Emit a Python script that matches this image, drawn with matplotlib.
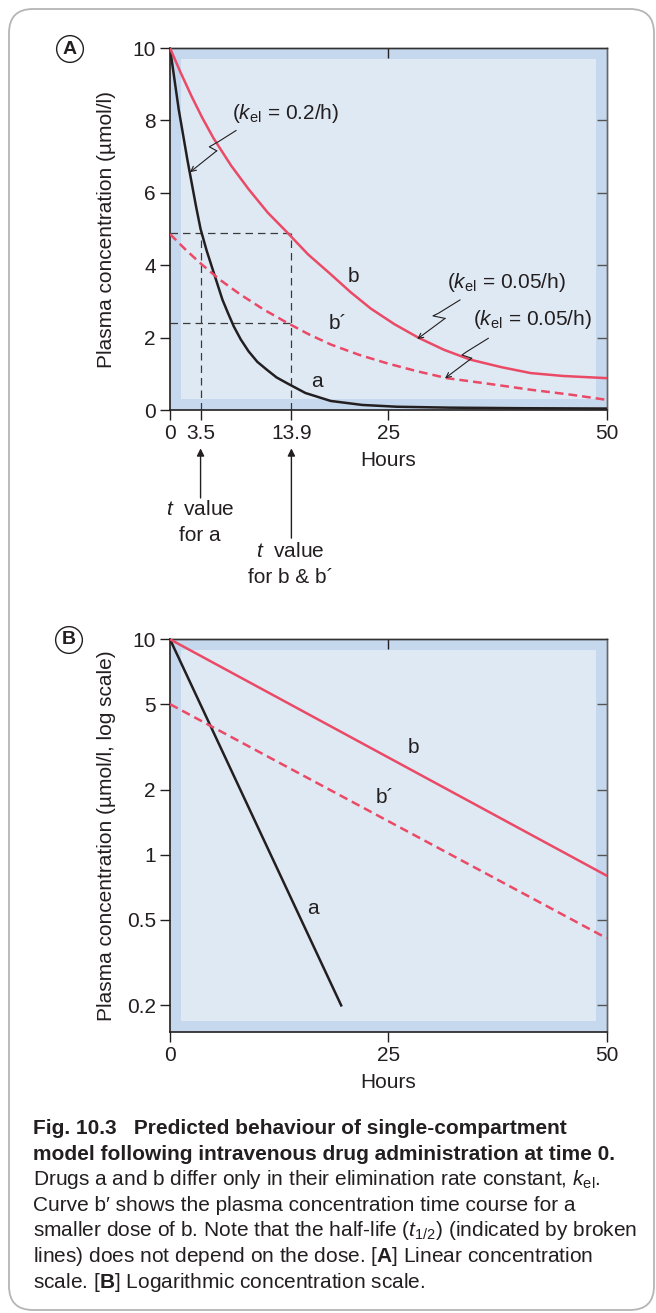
import matplotlib
matplotlib.use("Agg")
import matplotlib.pyplot as plt
from matplotlib.patches import Rectangle, FancyBboxPatch
from matplotlib.transforms import IdentityTransform
from matplotlib.ticker import FixedLocator, NullLocator

plt.rcParams['font.family'] = ['Liberation Sans', 'DejaVu Sans']
plt.rcParams['mathtext.fontset'] = 'custom'
plt.rcParams['mathtext.rm'] = 'Liberation Sans'
plt.rcParams['mathtext.it'] = 'Liberation Sans:italic'
plt.rcParams['mathtext.bf'] = 'Liberation Sans:bold'

# --- panel A: linear scale (hours, umol/l)
t_a = [0, 1, 2, 3, 3.5, 4.2, 5, 6, 6.6, 7.3, 8.1, 9, 10, 11.1, 12.2, 13.4, 15.5, 18.4,
       22, 26, 32, 40, 50]
c_a = [10, 8.3, 6.9, 5.6, 5.0, 4.4, 3.8, 3.05, 2.7, 2.31, 1.95, 1.62, 1.33, 1.11, 0.9,
       0.74, 0.47, 0.25, 0.14, 0.09, 0.065, 0.05, 0.04]
t_b = [0, 1.2, 2.5, 3.7, 5, 7, 9, 11.2, 13.4, 15.8, 18.4, 20.7, 23, 25.7, 28.5, 31.4,
       34.4, 38, 41.3, 45, 50]
c_b = [10, 9.33, 8.65, 8.07, 7.5, 6.75, 6.1, 5.45, 4.91, 4.3, 3.75, 3.25, 2.8, 2.37,
       1.99, 1.66, 1.39, 1.18, 1.02, 0.94, 0.88]
t_b2 = [0, 1.7, 3.4, 5.7, 8, 10.7, 13.4, 15.9, 18.4, 21.7, 25, 28.3, 31.7, 36, 41.3,
        46, 50]
c_b2 = [4.86, 4.45, 4.07, 3.6, 3.2, 2.78, 2.41, 2.09, 1.81, 1.52, 1.28, 1.07, 0.88,
        0.74, 0.56, 0.42, 0.28]

# half-life guides
t_half = [3.5, 13.9]
half_levels = [4.9, 2.4]

xticks_a = [0, 3.5, 13.9, 25, 50]
xticklabels_a = ['0', '3.5', '13.9', '25', '50']
yticks_a = [0, 2, 4, 6, 8, 10]

# --- panel B: log scale
t_log_a = [0, 19.6]
c_log_a = [10, 0.2]
t_log_b = [0, 50]
c_log_b = [10, 0.80]
t_log_b2 = [0, 50]
c_log_b2 = [5, 0.41]

yticks_b = [0.2, 0.5, 1, 2, 5, 10]
yticklabels_b = ['0.2', '0.5', '1', '2', '5', '10']
xticks_b = [0, 25, 50]

caption_lines = [
    'Fig. 10.3   Predicted behaviour of single-compartment',
    'model following intravenous drug administration at time 0.',
    r'Drugs a and b differ only in their elimination rate constant, $k_{\mathrm{el}}$.',
    'Curve b\u2032 shows the plasma concentration time course for a',
    r'smaller dose of b. Note that the half-life ($t_{1/2}$) (indicated by broken',
    r'lines) does not depend on the dose. [$\mathbf{A}$] Linear concentration',
    r'scale. [$\mathbf{B}$] Logarithmic concentration scale.',
]
caption_bold = [True, True, False, False, False, False, False]

RED = '#ea4a66'
INK = '#231f20'
OUTER = '#c5d8ed'
INNER = '#dfe9f4'
FS = 15

W, H = 656, 1313
fig = plt.figure(figsize=(W / 100, H / 100), dpi=100)


def box(l, t, r, b):
    return [l / W, 1 - b / H, (r - l) / W, (b - t) / H]


def panel_bg(ax, inset=11):
    ax.set_facecolor(OUTER)
    bb = ax.get_position()
    dx, dy = inset / (bb.width * W), inset / (bb.height * H)
    ax.add_patch(Rectangle((dx, dy), 1 - 2 * dx, 1 - 2 * dy, transform=ax.transAxes,
                           color=INNER, lw=0, zorder=0))


def style(ax, right_ticks, log=False):
    for s in ['left', 'bottom']:
        ax.spines[s].set(color=INK, lw=1.2)
    ax.spines['top'].set(color='#333333', lw=1.0)
    ax.spines['right'].set(color='#666666', lw=1.0)
    ax.tick_params(axis='both', direction='out', length=7.2, width=1.0, color=INK,
                   labelsize=FS, labelcolor=INK, pad=3)
    ax.tick_params(top=False, right=False)
    sx = ax.secondary_xaxis('top')
    sx.set_xticks([25])
    sx.tick_params(direction='in', length=7.2, width=1.0, color=INK, labeltop=False)
    sx.spines['top'].set(color='#333333', lw=1.0)
    sy = ax.secondary_yaxis('right')
    sy.set_yticks(right_ticks)
    sy.tick_params(direction='in', length=7.2, width=1.0, color='#555555', labelright=False)
    sy.spines['right'].set(color='#666666', lw=1.0)
    if log:
        sy.yaxis.set_minor_locator(NullLocator())


def squiggle(ax, pts):
    xs = [p[0] for p in pts[:-1]]
    ys = [p[1] for p in pts[:-1]]
    ax.plot(xs, ys, color=INK, lw=0.8, zorder=4)
    ax.annotate('', xy=pts[-1], xytext=pts[-2],
                arrowprops=dict(arrowstyle='->', lw=0.8, color=INK,
                                shrinkA=0, shrinkB=0, mutation_scale=9))


# ---------------- panel A
axA = fig.add_axes(box(170, 48, 606.7, 410))
panel_bg(axA)
axA.set_xlim(0, 50)
axA.set_ylim(0, 10)

gk = dict(color='#3a3a3a', lw=0.9, ls=(0, (6, 4)), zorder=2)
for lvl in half_levels:
    axA.plot([0, t_half[1]], [lvl, lvl], **gk)
for th in t_half:
    axA.plot([th, th], [0, half_levels[0]], **gk)

axA.plot(t_a, c_a, color=INK, lw=1.8, zorder=3)
axA.plot(t_b, c_b, color=RED, lw=1.8, zorder=3)
axA.plot(t_b2, c_b2, color=RED, lw=1.8, ls=(0, (3.5, 2)), zorder=3)

axA.set_xticks(xticks_a)
axA.set_xticklabels(xticklabels_a)
axA.set_yticks(yticks_a)
style(axA, [2, 4, 6, 8])

axA.set_ylabel('Plasma concentration (\u00b5mol/l)', fontsize=FS, color=INK, va='center')
axA.yaxis.set_label_coords(-63 / 436.7, 0.5)
axA.set_xlabel('Hours', fontsize=FS, color=INK, va='center')
axA.xaxis.set_label_coords(0.5, -50 / 362)

axA.text(13.28, 8.2, r'($k_{\mathrm{el}}$ = 0.2/h)', fontsize=FS, color=INK,
         ha='center', va='center', zorder=5)
squiggle(axA, [(7.56, 7.72), (5.53, 7.41), (4.5, 7.27), (5.35, 7.16), (2.29, 6.57)])
axA.text(38.55, 3.51, r'($k_{\mathrm{el}}$ = 0.05/h)', fontsize=FS, color=INK,
         ha='center', va='center', zorder=5)
squiggle(axA, [(33.2, 3.04), (30.72, 2.67), (30.11, 2.6), (31.49, 2.53), (28.31, 1.96)])
axA.text(41.45, 2.49, r'($k_{\mathrm{el}}$ = 0.05/h)', fontsize=FS, color=INK,
         ha='center', va='center', zorder=5)
squiggle(axA, [(36.44, 1.98), (33.97, 1.61), (33.43, 1.52), (34.54, 1.43), (31.49, 0.876)])

axA.text(20.99, 3.68, 'b', fontsize=FS, color=INK, ha='center', va='center')
axA.text(19.23, 2.40, 'b\u00b4', fontsize=FS, color=INK, ha='center', va='center')
axA.text(16.8, 0.78, 'a', fontsize=FS, color=INK, ha='center', va='center')

# t value arrows below the axis
for th, tail, ty, line2 in [(3.5, -2.43, -2.76, 'for a'), (13.9, -3.54, -3.91, 'for b & b\u00b4')]:
    axA.annotate('', xy=(th, -1.06), xytext=(th, tail), annotation_clip=False,
                 arrowprops=dict(arrowstyle='-|>', lw=1.0, color=INK,
                                 shrinkA=0, shrinkB=0, mutation_scale=11))
    axA.text(th - 0.1, ty, r'$t$  value', fontsize=FS, color=INK, ha='center',
             va='center', clip_on=False)
    axA.text(th - 0.1, ty - 0.72, line2, fontsize=FS, color=INK, ha='center',
             va='center', clip_on=False)

# ---------------- panel B
axB = fig.add_axes(box(170, 639.3, 606.7, 1032.3))
panel_bg(axB)
axB.set_yscale('log')
axB.set_xlim(0, 50)
axB.set_ylim(0.15, 10)

axB.plot(t_log_a, c_log_a, color=INK, lw=1.8, zorder=3)
axB.plot(t_log_b, c_log_b, color=RED, lw=1.8, zorder=3)
axB.plot(t_log_b2, c_log_b2, color=RED, lw=1.8, ls=(0, (3.5, 2)), zorder=3)

axB.set_xticks(xticks_b)
axB.yaxis.set_major_locator(FixedLocator(yticks_b))
axB.yaxis.set_minor_locator(NullLocator())
axB.set_yticklabels(yticklabels_b)
style(axB, [0.2, 0.5, 1, 2, 5], log=True)

axB.set_ylabel('Plasma concentration (\u00b5mol/l, log scale)', fontsize=FS, color=INK,
               va='center')
axB.yaxis.set_label_coords(-63 / 436.7, 0.5)
axB.set_xlabel('Hours', fontsize=FS, color=INK, va='center')
axB.xaxis.set_label_coords(0.5, -49.7 / 393)

axB.text(27.86, 3.14, 'b', fontsize=FS, color=INK, ha='center', va='center')
axB.text(24.62, 1.85, 'b\u00b4', fontsize=FS, color=INK, ha='center', va='center')
axB.text(16.41, 0.563, 'a', fontsize=FS, color=INK, ha='center', va='center')

# panel letters
for lab, (px, py) in [('A', (70, 49)), ('B', (69, 640))]:
    fig.text(px / W, 1 - py / H, lab, fontsize=14, fontweight='bold', color=INK,
             ha='center', va='center',
             bbox=dict(boxstyle='circle,pad=0.25', fc='white', ec=INK, lw=1.0))

# caption
for i, (line, bold) in enumerate(zip(caption_lines, caption_bold)):
    fig.text(33 / W, 1 - (1134 + i * 25.6) / H, line, fontsize=FS, color=INK,
             fontweight='bold' if bold else 'normal', ha='left', va='baseline')

frame = FancyBboxPatch((9, 3), 645, 1301, boxstyle='round,pad=0,rounding_size=24',
                       transform=IdentityTransform(), fc='none', ec='#b5b5b5', lw=1.3)
fig.add_artist(frame)

fig.savefig('out.png', dpi=100)
